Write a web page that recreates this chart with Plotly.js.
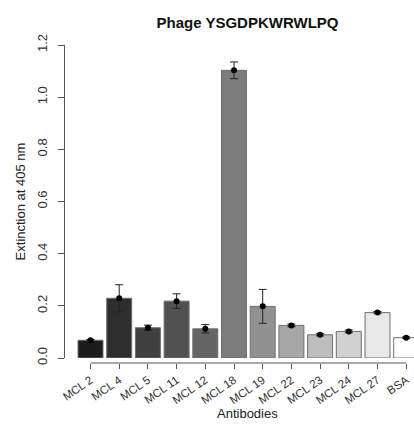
<!DOCTYPE html>
<html>
<head>
<meta charset="utf-8">
<script src="https://cdn.plot.ly/plotly-3.0.1.min.js"></script>
<style>
  html, body { margin: 0; padding: 0; overflow: hidden; background: #fff; }
  #chart { width: 430px; height: 425px; }
</style>
</head>
<body>
<div id="chart"></div>
<script>
const categories = ["MCL 2", "MCL 4", "MCL 5", "MCL 11", "MCL 12", "MCL 18", "MCL 19", "MCL 22", "MCL 23", "MCL 24", "MCL 27", "BSA"];
const means = [0.068, 0.229, 0.116, 0.218, 0.112, 1.103, 0.198, 0.125, 0.089, 0.102, 0.174, 0.078];
const errors = [0.003, 0.052, 0.010, 0.028, 0.016, 0.032, 0.065, 0.005, 0.004, 0.005, 0.004, 0.003];
const barColors = ["#1c1c1c", "#2e2e2e", "#404040", "#515151", "#656565", "#7c7c7c", "#919191", "#a7a7a7", "#bdbdbd", "#d1d1d1", "#e8e8e8", "#ffffff"];
const yTicks = [0, 0.2, 0.4, 0.6, 0.8, 1.0, 1.2];

const bars = {
  type: "bar",
  x: categories,
  y: means,
  marker: { color: barColors, line: { color: "#6e6e6e", width: 1 } },
  hoverinfo: "x+y",
  showlegend: false
};

const points = {
  type: "scatter",
  mode: "markers",
  x: categories,
  y: means,
  marker: { color: "#000", size: 6 },
  error_y: { type: "data", array: errors, visible: true, color: "#222", thickness: 1, width: 4 },
  showlegend: false
};

const fam = "Liberation Sans, Arial, sans-serif";

const layout = {
  width: 430,
  height: 425,
  margin: { l: 65, r: 0, t: 45, b: 62 },
  paper_bgcolor: "#fff",
  plot_bgcolor: "#fff",
  bargap: 0.13,
  title: {
    text: "<b>Phage YSGDPKWRWLPQ</b>",
    font: { family: fam, size: 15, color: "#111" },
    x: 0.5, xref: "paper", y: 0.96, yref: "container"
  },
  xaxis: {
    type: "category",
    range: [-0.889, 11.83],
    anchor: "free",
    position: 0,
    showline: false,
    showgrid: false,
    zeroline: false,
    ticks: "outside",
    ticklen: 5,
    tickcolor: "#555",
    tickangle: -35,
    tickfont: { family: fam, size: 11.5, color: "#333" }
  },
  yaxis: {
    domain: [5 / 318, 1],
    range: [0, 1.2],
    tickvals: yTicks,
    ticktext: yTicks.map(v => v.toFixed(1)),
    showline: true,
    linecolor: "#555",
    linewidth: 1,
    showgrid: false,
    zeroline: false,
    ticks: "outside",
    ticklen: 6,
    tickcolor: "#555",
    tickangle: -90,
    tickfont: { family: fam, size: 13, color: "#333" },
    ticklabelstandoff: 6,
    title: { text: "Extinction at 405 nm", font: { family: fam, size: 13, color: "#222" }, standoff: 6 }
  },
  annotations: [{
    text: "Antibodies", xref: "paper", yref: "paper", x: 0.5, y: -0.16,
    xanchor: "center", yanchor: "middle", showarrow: false,
    font: { family: fam, size: 13, color: "#222" }
  }],
  shapes: [{
    type: "line", xref: "x", yref: "paper",
    x0: 0, x1: categories.length - 1, y0: 0, y1: 0,
    line: { color: "#555", width: 1 }
  }]
};

Plotly.newPlot("chart", [bars, points], layout, { displayModeBar: false, staticPlot: true });
</script>
</body>
</html>
